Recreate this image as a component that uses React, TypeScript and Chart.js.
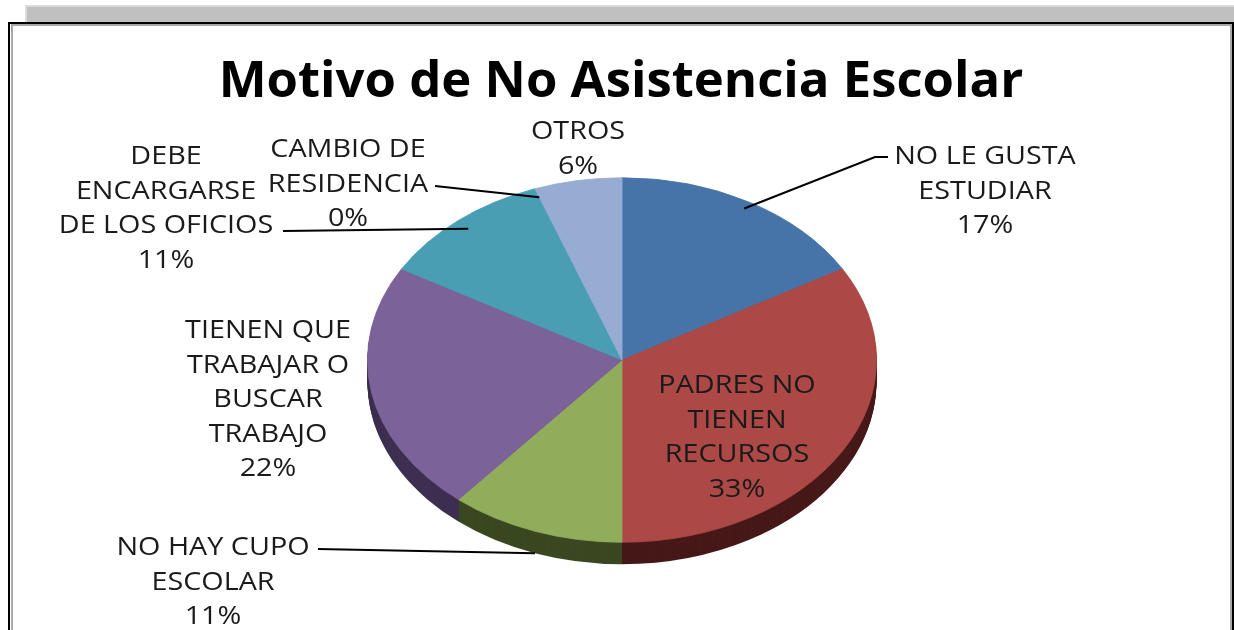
import { useEffect, useRef } from "react";
import { Chart, registerables } from "chart.js";

Chart.register(...registerables);

const chartTitle = "Motivo de No Asistencia Escolar";
const categories = [
  "NO LE GUSTA ESTUDIAR",
  "PADRES NO TIENEN RECURSOS",
  "NO HAY CUPO ESCOLAR",
  "TIENEN QUE TRABAJAR O BUSCAR TRABAJO",
  "DEBE ENCARGARSE DE LOS OFICIOS",
  "CAMBIO DE RESIDENCIA",
  "OTROS",
];
const counts = [3, 6, 2, 4, 2, 0, 1];
const labelLines = [
  ["NO LE GUSTA", "ESTUDIAR"],
  ["PADRES NO", "TIENEN", "RECURSOS"],
  ["NO HAY CUPO", "ESCOLAR"],
  ["TIENEN QUE", "TRABAJAR O", "BUSCAR", "TRABAJO"],
  ["DEBE", "ENCARGARSE", "DE LOS OFICIOS"],
  ["CAMBIO DE", "RESIDENCIA"],
  ["OTROS"],
];
const topColors = ["#4674A8", "#AC4845", "#91AC5A", "#7B6399", "#4A9EB4", "#DB843D", "#97ACD3"];
const sideColors = ["#2C4668", "#461918", "#3A4822", "#3D2F50", "#245A68", "#6A3D14", "#4C5A78"];

// layout (not data)
const CX = 622;
const CY = 360;
const R = 255;
const SQUASH = 0.716;
const DEPTH = 22;
const LINE_H = 34.5;
const TEXT_STRETCH = 1.15;
const labelLayout = [
  { x: 985, y: 157, leader: [[888, 157], [875, 157]], f: 0.96 },
  { x: 737, y: 386 },
  { x: 213, y: 548, leader: [[318, 549]], f: 1.0, side: true },
  { x: 268, y: 331 },
  { x: 166, y: 157, leader: [[283, 231]], f: 0.94 },
  { x: 348, y: 150, leader: [[435, 186]], f: 0.95 },
  { x: 578, y: 132 },
];

const pie3d = {
  id: "pie3d",
  beforeDatasetsDraw(chart: any) {
    const ctx = chart.ctx;
    const arcs = chart.getDatasetMeta(0).data;
    const cx = arcs[0].x;
    const cy = arcs[0].y;
    for (let d = DEPTH; d >= 1; d--) {
      ctx.save();
      ctx.translate(cx, cy + d);
      ctx.scale(1, SQUASH);
      ctx.translate(-cx, -cy);
      arcs.forEach((a: any, i: number) => {
        const p = a.getProps(["x", "y", "startAngle", "endAngle", "outerRadius"], true);
        if (p.endAngle - p.startAngle <= 0) return;
        ctx.beginPath();
        ctx.moveTo(p.x, p.y);
        ctx.arc(p.x, p.y, p.outerRadius, p.startAngle, p.endAngle);
        ctx.closePath();
        ctx.fillStyle = sideColors[i];
        ctx.fill();
      });
      ctx.restore();
    }
    ctx.save();
    ctx.translate(cx, cy);
    ctx.scale(1, SQUASH);
    ctx.translate(-cx, -cy);
  },
  afterDatasetsDraw(chart: any) {
    chart.ctx.restore();
  },
  afterDraw(chart: any) {
    const ctx = chart.ctx;
    const arcs = chart.getDatasetMeta(0).data;
    const total = counts.reduce((s, v) => s + v, 0);

    // title
    ctx.save();
    let size = 60;
    ctx.font = `bold ${size}px "Open Sans"`;
    const w = ctx.measureText(chartTitle).width;
    size = (size * 805) / w;
    ctx.font = `bold ${size}px "Open Sans"`;
    ctx.fillStyle = "#000";
    ctx.textAlign = "center";
    ctx.textBaseline = "alphabetic";
    ctx.fillText(chartTitle, 621, 97);

    // labels
    ctx.font = `25px "Open Sans"`;
    ctx.fillStyle = "#1a1a1a";
    ctx.textBaseline = "middle";
    labelLines.forEach((lines, i) => {
      const L: any = labelLayout[i];
      const pct = Math.round((counts[i] / total) * 100) + "%";
      const all = [...lines, pct];
      all.forEach((t, j) => {
        ctx.save();
        ctx.translate(L.x, L.y + j * LINE_H);
        ctx.scale(TEXT_STRETCH, 1);
        ctx.fillText(t, 0, 0);
        ctx.restore();
      });
      if (L.leader) {
        const p = arcs[i].getProps(["x", "y", "startAngle", "endAngle", "outerRadius"], true);
        const mid = (p.startAngle + p.endAngle) / 2;
        const ex = p.x + Math.cos(mid) * p.outerRadius * L.f;
        let ey = p.y + Math.sin(mid) * p.outerRadius * L.f * SQUASH;
        if (L.side) ey += DEPTH;
        ctx.beginPath();
        ctx.moveTo(L.leader[0][0], L.leader[0][1]);
        for (let k = 1; k < L.leader.length; k++) ctx.lineTo(L.leader[k][0], L.leader[k][1]);
        ctx.lineTo(ex, ey);
        ctx.strokeStyle = "#000";
        ctx.lineWidth = 2;
        ctx.stroke();
      }
    });
    ctx.restore();
  },
};

export default function App() {
  const ref = useRef<HTMLCanvasElement | null>(null);
  useEffect(() => {
    if (!ref.current) return;
    const chart = new Chart(ref.current, {
      type: "pie",
      data: {
        labels: categories,
        datasets: [
          {
            data: counts,
            backgroundColor: topColors,
            borderColor: topColors,
            borderWidth: 1,
          },
        ],
      },
      options: {
        responsive: false,
        animation: false,
        events: [],
        layout: {
          padding: { left: CX - R, right: 1234 - (CX + R), top: CY - R, bottom: 630 - (CY + R) },
        },
        plugins: { legend: { display: false }, tooltip: { enabled: false }, title: { display: false } },
      },
      plugins: [pie3d],
    });
    return () => chart.destroy();
  }, []);

  return (
    <div style={{ position: "fixed", left: 0, top: 0, width: 1234, height: 630, background: "#fff", overflow: "hidden" }}>
      <div
        style={{
          position: "absolute",
          left: 25,
          top: 5,
          width: 1234 - 25,
          height: 17,
          boxSizing: "border-box",
          background: "#c0c0c0",
          borderTop: "2px solid #dcdcdc",
          borderLeft: "2px solid #dcdcdc",
        }}
      />
      <div
        style={{
          position: "absolute",
          left: 8,
          top: 22,
          width: 1226,
          height: 630,
          boxSizing: "border-box",
          border: "2px solid #000",
          background: "#fff",
        }}
      >
        <div
          style={{
            position: "absolute",
            left: 1,
            top: 0,
            right: 0,
            bottom: 0,
            border: "2px solid #a8a8a8",
            borderBottom: "none",
          }}
        />
      </div>
      <canvas ref={ref} width={1234} height={630} style={{ position: "absolute", left: 0, top: 0 }} />
    </div>
  );
}
